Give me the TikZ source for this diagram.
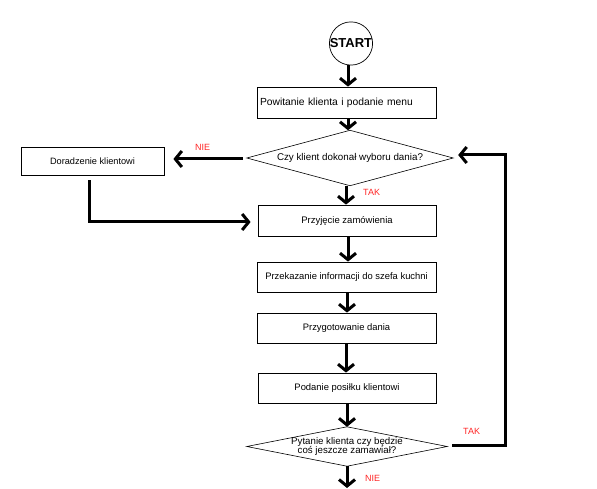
\documentclass[tikz,border=0pt]{standalone}
\usepackage{fontspec}
\setmainfont{Liberation Sans}
\usetikzlibrary{arrows.meta,shapes.geometric}
\newcommand{\fs}[1]{\fontsize{#1}{#1}\selectfont}
\begin{document}
\begin{tikzpicture}[x=1pt,y=-1pt,
  box/.style={draw,line width=0.8pt,rectangle,inner sep=0pt},
  dia/.style={rectangle,inner sep=0pt,align=center},
  flow/.style={line width=3pt,-{Straight Barb[length=6.5pt,width=16pt]}},
  lbl/.style={text=red!85!white,font=\fs{9},inner sep=0pt,anchor=west}]
\useasboundingbox (0,0) rectangle (597,489);
% nodes
\node[draw,circle,line width=0.7pt,minimum size=43pt,inner sep=0pt,font=\fs{13}\bfseries] (start) at (351,43.5) {START};
\node[box,minimum width=179pt,minimum height=31pt,text width=173pt,align=left,font=\fs{10.3}] (b1) at (346.5,102.5) {Powitanie klienta i podanie menu};
\node[dia,minimum width=206pt,minimum height=55pt,font=\fs{9.8}] (d1) at (350,158) {Czy klient dokonał wyboru dania?};
\draw[line width=0.6pt] (d1.west)--(d1.north)--(d1.east)--(d1.south)--cycle;
\node[box,minimum width=143pt,minimum height=28pt,font=\fs{9.2}] (b2) at (92.5,161) {Doradzenie klientowi};
\node[box,minimum width=178pt,minimum height=31pt,font=\fs{9.5}] (b3) at (347,220.5) {Przyjęcie zamówienia};
\node[box,minimum width=179pt,minimum height=30pt,font=\fs{9.4}] (b4) at (346.5,277) {Przekazanie informacji do szefa kuchni};
\node[box,minimum width=179pt,minimum height=30pt,font=\fs{9.4}] (b5) at (346.5,328) {Przygotowanie dania};
\node[box,minimum width=178pt,minimum height=30pt,font=\fs{9.4}] (b6) at (347,388) {Podanie posiłku klientowi};
\node[dia,minimum width=200pt,minimum height=39pt,font=\fs{9.7}] (d2) at (347,446.5) {Pytanie klienta czy będzie\\[-1pt]coś jeszcze zamawiał?};
\draw[line width=0.6pt] (d2.west)--(d2.north)--(d2.east)--(d2.south)--cycle;
\coordinate (end) at (347,488);
% labels
\node[lbl] (nie1) at (195,147) {NIE};
\node[lbl] (tak1) at (363,192) {TAK};
\node[lbl] (tak2) at (463,431) {TAK};
\node[lbl] (nie2) at (365,478) {NIE};
% connectors
\draw[flow] (start.south -| 348,0) -- (348,0 |- b1.north);
\draw[flow] (348,0 |- b1.south) -- (348,0 |- d1.north);
\draw[flow] ([xshift=-4pt,yshift=-1pt]d1.west) -- ([xshift=9pt,yshift=-1pt]d1.west -| b2.east);
\draw[flow] (346,0 |- d1.south) -- (346,0 |- b3.north);
\draw[flow] ([xshift=-3.5pt,yshift=-5pt]b2.south) |- ([xshift=-7pt,yshift=-1.5pt]b3.west);
\draw[flow] (348,0 |- b3.south) -- (348,0 |- b4.north);
\draw[flow] (347,0 |- b4.south) -- (347,0 |- b5.north);
\draw[flow] (346,0 |- b5.south) -- (346,0 |- b6.north);
\draw[flow] (347,0 |- b6.south) -- (347,0 |- d2.north);
\draw[flow] (347,0 |- d2.south) -- (end);
\draw[flow] ([xshift=5pt,yshift=1pt]d2.east) -| (505,155) -- ([xshift=5pt,yshift=3pt]d1.east);
\end{tikzpicture}
\end{document}
